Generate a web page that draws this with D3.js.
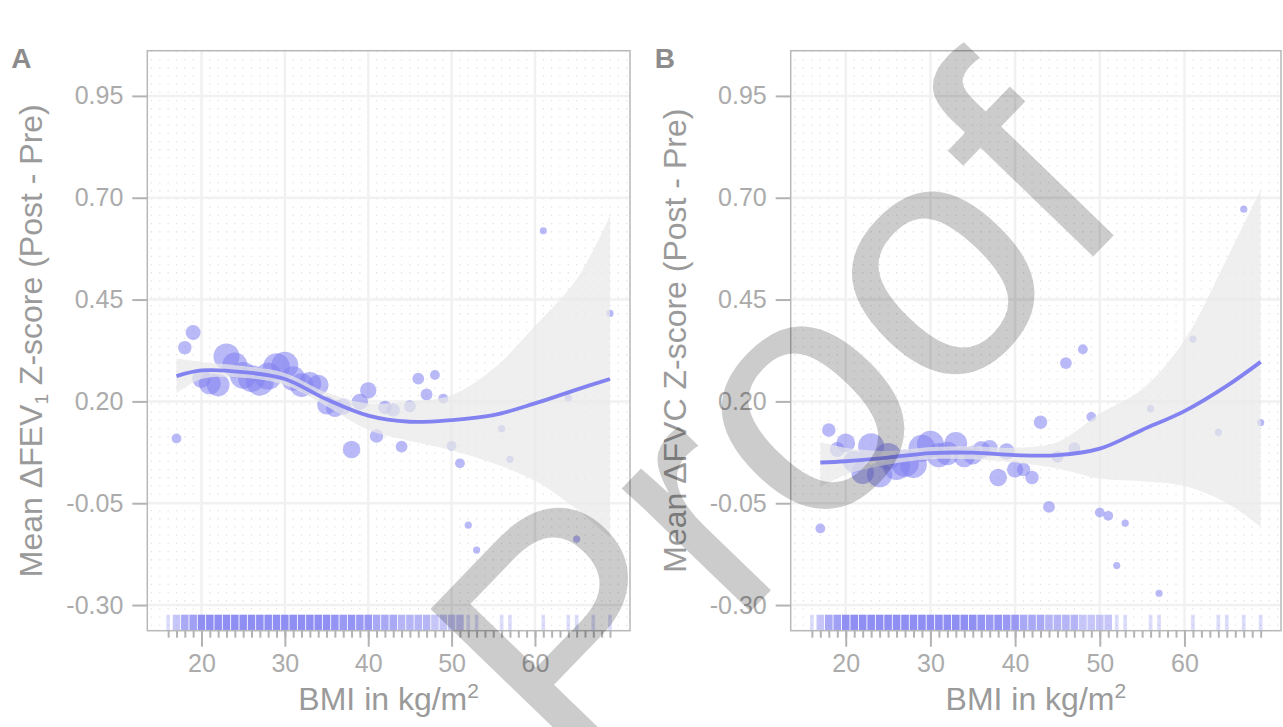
<!DOCTYPE html>
<html>
<head>
<meta charset="utf-8">
<title>BMI and Z-score change</title>
<script src="https://d3js.org/d3.v7.min.js"></script>
<style>
  body { margin: 0; background: #fff; }
  svg { display: block; font-family: "Liberation Sans", Arial, Helvetica, sans-serif; }
  .tick text { fill: #ababab; font-size: 25px; }
  .tick line { stroke: #b3b3b3; stroke-width: 2; }
  .title { fill: #9a9a9a; font-size: 32px; }
  .panel-tag { fill: #8c8c8c; font-size: 28px; font-weight: bold; }
</style>
</head>
<body>
<svg id="chart" width="1283" height="727"></svg>
<script>

// one bubble per BMI value (kg/m2)
let bmi = [17, 18, 19, 20, 21, 22, 23, 24, 25, 26, 27, 28, 29, 30, 31, 32, 33, 34, 35, 36,
           37, 38, 39, 40, 41, 42, 43, 44, 45, 46, 47, 48, 49, 50, 51, 52, 53, 56, 57, 61,
           64, 65, 67, 69];
// number of patients at each BMI -> bubble size
let patients = [2, 4, 5, 8, 11, 12, 16, 15, 17, 17, 18, 17, 17, 17, 14, 13, 12, 10, 8, 7,
                6, 7, 6, 6, 4, 4, 4, 3, 3, 3, 3, 2, 2, 2, 2, 1, 1, 1, 1, 1,
                1, 1, 1, 1];
// mean change in FEV1 z-score (panel A)
let fevChange = [0.109, 0.332, 0.369, 0.256, 0.244, 0.240, 0.310, 0.289, 0.264, 0.256,
                 0.248, 0.262, 0.285, 0.289, 0.256, 0.240, 0.244, 0.240, 0.191, 0.183,
                 0.187, 0.082, 0.199, 0.227, 0.115, 0.185, 0.179, 0.089, 0.188, 0.256,
                 0.217, 0.265, 0.207, 0.091, 0.048, -0.104, -0.165, 0.133, 0.058, 0.619,
                 0.209, -0.138, null, 0.416];
// mean change in FVC z-score (panel B)
let fvcChange = [-0.112, 0.130, 0.082, 0.098, 0.052, 0.025, 0.090, 0.020, 0.065, 0.040,
                 0.048, 0.045, 0.085, 0.095, 0.068, 0.072, 0.097, 0.064, 0.068, 0.081,
                 0.085, 0.013, 0.077, 0.033, 0.033, 0.013, 0.149, -0.059, 0.064, 0.294,
                 0.085, 0.328, 0.162, -0.073, -0.081, -0.203, -0.099, 0.182, -0.271, 0.353,
                 0.124, null, 0.672, 0.148];

// rug of individual BMIs (count per BMI)
let rugBmi = [16, 17, 18, 19, 20, 21, 22, 23, 24, 25, 26, 27, 28, 29, 30, 31, 32, 33, 34, 35,
              36, 37, 38, 39, 40, 41, 42, 43, 44, 45, 46, 47, 48, 49, 50, 51, 52, 53, 56, 57,
              61, 64, 65, 67, 69];
let rugCount = [1, 2, 4, 5, 8, 11, 12, 16, 15, 17, 17, 18, 17, 17, 17, 14, 13, 12, 10, 8,
                7, 6, 7, 6, 6, 4, 4, 4, 3, 3, 3, 3, 2, 2, 2, 2, 1, 1, 1, 1,
                1, 1, 1, 1, 1];

// loess fit with 95% band
let fitBmi = [17, 20, 25, 30, 35, 40, 45, 50, 55, 60, 65, 69];
let fevFit = [0.262, 0.276, 0.272, 0.255, 0.205, 0.165, 0.150, 0.154, 0.166, 0.195, 0.229, 0.255];
let fevLow = [0.220, 0.255, 0.258, 0.240, 0.188, 0.130, 0.103, 0.080, 0.048, 0.005, -0.065, -0.135];
let fevHigh = [0.305, 0.297, 0.287, 0.270, 0.222, 0.195, 0.200, 0.215, 0.280, 0.385, 0.500, 0.655];
let fvcFit = [0.050, 0.053, 0.062, 0.073, 0.074, 0.068, 0.068, 0.084, 0.130, 0.176, 0.238, 0.297];
let fvcLow = [-0.010, 0.020, 0.045, 0.058, 0.058, 0.050, 0.035, 0.010, 0.004, -0.008, -0.050, -0.108];
let fvcHigh = [0.100, 0.086, 0.078, 0.088, 0.090, 0.086, 0.100, 0.170, 0.230, 0.350, 0.550, 0.720];

// axes
let xTicks = [20, 30, 40, 50, 60];
let yTicks = [-0.30, -0.05, 0.20, 0.45, 0.70, 0.95];
let yTickLabels = ["-0.30", "-0.05", "0.20", "0.45", "0.70", "0.95"];

let xDomain = [13.5, 71.4];
let yDomain = [-0.363, 1.061];
let plotTop = 50.7;
let plotBottom = 630.7;

let svg = d3.select("#chart");

let panels = [
  { tag: "A", left: 147.3, right: 630, values: fevChange, fit: fevFit, low: fevLow, high: fevHigh,
    measure: "FEV", sub: "1" },
  { tag: "B", left: 790.7, right: 1281, values: fvcChange, fit: fvcFit, low: fvcLow, high: fvcHigh,
    measure: "FVC", sub: "" }
];

panels.forEach(p => drawPanel(p));

function drawPanel(p) {
  let x = d3.scaleLinear().domain(xDomain).range([p.left, p.right]);
  let y = d3.scaleLinear().domain(yDomain).range([plotBottom, plotTop]);
  let size = d3.scaleSqrt().domain([1, d3.max(patients)]).range([3.6, 13.8]);

  let g = svg.append("g");

  // faint dotted lattice
  g.append("g").selectAll("line")
    .data(d3.range(14, 72))
    .join("line")
    .attr("x1", d => x(d)).attr("x2", d => x(d))
    .attr("y1", plotTop).attr("y2", plotBottom)
    .attr("stroke", "#e1e1e1")
    .attr("stroke-width", 1.2)
    .attr("stroke-dasharray", "1.3 6.9");

  // major grid
  g.append("g").selectAll("line")
    .data(xTicks)
    .join("line")
    .attr("x1", d => x(d)).attr("x2", d => x(d))
    .attr("y1", plotTop).attr("y2", plotBottom)
    .attr("stroke", "#f1f1f1").attr("stroke-width", 2.5);
  g.append("g").selectAll("line")
    .data(yTicks)
    .join("line")
    .attr("x1", p.left).attr("x2", p.right)
    .attr("y1", d => y(d)).attr("y2", d => y(d))
    .attr("stroke", "#f1f1f1").attr("stroke-width", 2.5);

  // bubbles
  let pts = bmi.map((b, i) => ({ bmi: b, n: patients[i], v: p.values[i] }))
    .filter(d => d.v != null);
  g.append("g").selectAll("circle")
    .data(pts)
    .join("circle")
    .attr("cx", d => x(d.bmi))
    .attr("cy", d => y(d.v))
    .attr("r", d => size(d.n))
    .attr("fill", "#7f7ff0")
    .attr("fill-opacity", 0.55);

  // smooth with band
  let fit = fitBmi.map((b, i) => ({ bmi: b, fit: p.fit[i], lo: p.low[i], hi: p.high[i] }));
  let band = d3.area()
    .x(d => x(d.bmi))
    .y0(d => y(d.lo))
    .y1(d => y(d.hi))
    .curve(d3.curveCatmullRom);
  g.append("path")
    .datum(fit)
    .attr("d", band)
    .attr("fill", "#e8e8e8")
    .attr("fill-opacity", 0.7);
  let line = d3.line()
    .x(d => x(d.bmi))
    .y(d => y(d.fit))
    .curve(d3.curveCatmullRom);
  g.append("path")
    .datum(fit)
    .attr("d", line)
    .attr("fill", "none")
    .attr("stroke", "#8282f0")
    .attr("stroke-width", 3.8);

  // rug along the bottom
  let unit = x(1) - x(0);
  g.append("g").selectAll("rect")
    .data(rugBmi.map((b, i) => ({ bmi: b, n: rugCount[i] })))
    .join("rect")
    .attr("x", d => x(d.bmi) - (d.n > 1 ? unit * 0.45 : unit * 0.22))
    .attr("width", d => d.n > 1 ? unit * 0.9 : unit * 0.44)
    .attr("y", plotBottom - 16)
    .attr("height", 16)
    .attr("fill", "#8585f2")
    .attr("fill-opacity", d => Math.min(0.92, 1 - Math.pow(0.75, d.n + 0.2)));

  // frame
  g.append("rect")
    .attr("x", p.left).attr("y", plotTop)
    .attr("width", p.right - p.left).attr("height", plotBottom - plotTop)
    .attr("fill", "none")
    .attr("stroke", "#b8b8b8")
    .attr("stroke-width", 1.5);

  // y axis
  let yAxis = d3.axisLeft(y)
    .tickValues(yTicks)
    .tickFormat((d, i) => yTickLabels[i])
    .tickSize(15)
    .tickPadding(9);
  let yGroup = g.append("g").attr("transform", translate(p.left, 0)).call(yAxis);
  yGroup.select(".domain").remove();
  yGroup.selectAll("text").attr("font-family", null).attr("font-size", null);

  // x axis: minor ticks at every unit, major ticks labelled
  let xMinor = d3.axisBottom(x)
    .tickValues(d3.range(16, 70))
    .tickFormat("")
    .tickSize(7);
  let minor = g.append("g").attr("transform", translate(0, plotBottom)).call(xMinor);
  minor.select(".domain").remove();

  let xAxis = d3.axisBottom(x)
    .tickValues(xTicks)
    .tickFormat(d3.format("d"))
    .tickSize(16)
    .tickPadding(8);
  let xGroup = g.append("g").attr("transform", translate(0, plotBottom)).call(xAxis);
  xGroup.select(".domain").remove();
  xGroup.selectAll("text").attr("font-family", null).attr("font-size", null);

  // axis titles
  let xt = g.append("text")
    .attr("class", "title")
    .attr("x", (p.left + p.right) / 2)
    .attr("y", 710)
    .attr("text-anchor", "middle");
  xt.append("tspan").text("BMI in kg/m");
  xt.append("tspan").attr("font-size", 21).attr("dy", -12).text("2");

  let yt = g.append("text")
    .attr("class", "title")
    .attr("transform", translate(p.left - 105, (plotTop + plotBottom) / 2) + " rotate(-90)")
    .attr("text-anchor", "middle");
  yt.append("tspan").text("Mean \u0394" + p.measure);
  if (p.sub) {
    yt.append("tspan").attr("font-size", 19).attr("dy", 6).text(p.sub);
    yt.append("tspan").attr("dy", -6).text(" Z-score (Post - Pre)");
  } else {
    yt.append("tspan").text(" Z-score (Post - Pre)");
  }

  // panel tag
  g.append("text")
    .attr("class", "panel-tag")
    .attr("x", p.left - 136)
    .attr("y", 68)
    .text(p.tag);
}

// proof watermark over the figure
svg.append("text")
  .attr("transform", translate(578, 790) + " rotate(-46)")
  .attr("font-size", 337)
  .attr("fill", "#000")
  .attr("fill-opacity", 0.2)
  .text("Proof");

// helper method to make translating easier
function translate(x, y) {
  return "translate(" + x + "," + y + ")";
}

</script>
</body>
</html>
